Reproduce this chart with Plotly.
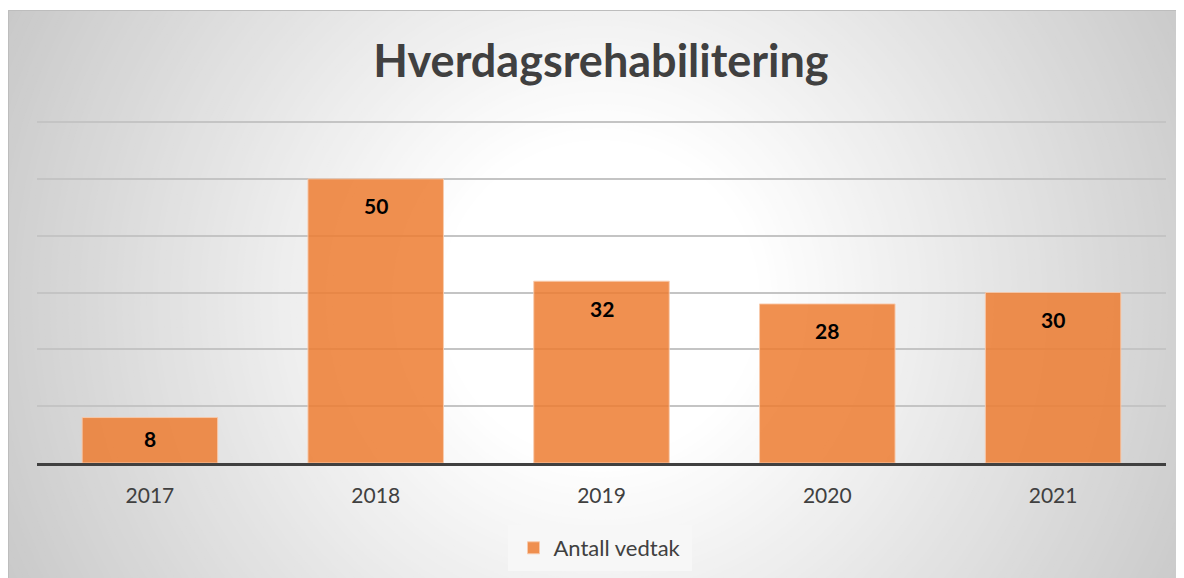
import plotly.graph_objects as go

# ---- data ----
years = ["2017", "2018", "2019", "2020", "2021"]
vedtak = [8, 50, 32, 28, 30]
series_name = "Antall vedtak"
title_text = "Hverdagsrehabilitering"

# ---- geometry: reference page pixels, page has an 8px body margin ----
OX, OY = 8, 8
W, H = 1184 - OX, 578 - OY
PLOT_L, PLOT_R, PLOT_T, PLOT_B = 37, 1166, 121, 463   # page pixels
L = PLOT_L - OX
R = W - (PLOT_R - OX)
T = PLOT_T - OY
B = H - (PLOT_B - OY)
PW, PH = W - L - R, H - T - B
YMAX = 60.2


def fx(p):  # page px -> paper x
    return (p - PLOT_L) / PW


def fy(p):  # page px -> paper y
    return (PLOT_B - p) / PH


def cy_(p):  # page px -> container y
    return 1 - (p - OY) / H


FONT = "Lato, Carlito, Calibri, sans-serif"

fig = go.Figure()
fig.add_trace(go.Bar(
    x=years, y=vedtak, name=series_name, width=0.6,
    marker=dict(color="rgba(237,125,49,0.85)",
                line=dict(color="rgba(248,203,173,0.9)", width=1)),
    showlegend=True,
))

# ---- background: radial gradient via concentric circles ----
shapes = []
cx, cy = 600, 300


def shade(r):
    v = 255 if r <= 160 else 255 - 0.108 * (r - 160)
    v = int(round(max(v, 190)))
    return f"rgb({v},{v},{v})"


shapes.append(dict(type="rect", xref="paper", yref="paper", layer="below",
                   x0=fx(0), x1=fx(1200), y0=fy(10), y1=fy(600),
                   fillcolor=shade(700), line=dict(width=0)))
r = 700
while r >= 150:
    shapes.append(dict(type="circle", xref="paper", yref="paper", layer="below",
                       x0=fx(cx - r), x1=fx(cx + r), y0=fy(cy + r), y1=fy(cy - r),
                       fillcolor=shade(r), line=dict(width=0)))
    r -= 6
# white margin above the chart frame
shapes.append(dict(type="rect", xref="paper", yref="paper", layer="below",
                   x0=fx(-20), x1=fx(1220), y0=fy(10), y1=fy(-20),
                   fillcolor="white", line=dict(width=0)))
# frame border
shapes.append(dict(type="rect", xref="paper", yref="paper", layer="below",
                   x0=fx(8.5), x1=fx(1220), y0=fy(10.5), y1=fy(620),
                   fillcolor="rgba(0,0,0,0)", line=dict(color="#BDBDBD", width=1)))
# legend box background
shapes.append(dict(type="rect", xref="paper", yref="paper", layer="below",
                   x0=fx(508), x1=fx(692), y0=fy(571), y1=fy(525),
                   fillcolor="#F7F7F7", line=dict(width=0)))

# ---- data labels ----
px_per_unit = PH / YMAX
annotations = []
for i, v in enumerate(vedtak):
    off = min(27, v * px_per_unit / 2 - 2)
    annotations.append(dict(x=i, y=v, xref="x", yref="y", text=str(v),
                            showarrow=False, yanchor="middle", yshift=-off,
                            font=dict(family=FONT, size=21, color="black",
                                      weight="bold")))

fig.update_layout(
    width=W, height=H, autosize=False,
    margin=dict(l=L, r=R, t=T, b=B, pad=0),
    paper_bgcolor="white",
    plot_bgcolor="rgba(0,0,0,0)",
    title=dict(text=f"<b>{title_text}</b>", x=fx(601), xref="paper",
               xanchor="center",
               y=cy_(61), yanchor="middle",
               font=dict(family=FONT, size=45, color="#404040")),
    shapes=shapes,
    annotations=annotations,
    xaxis=dict(type="category", range=[-0.5, len(years) - 0.5],
               automargin=False,
               showline=True, linecolor="#404040", linewidth=3,
               showgrid=False, ticks="", ticklabelstandoff=12,
               tickfont=dict(family=FONT, size=21, color="#404040")),
    yaxis=dict(range=[0, YMAX], tickmode="linear", tick0=0, dtick=10,
               automargin=False, showticklabels=False,
               showgrid=True, gridcolor="#C4C4C4", gridwidth=1.5,
               zeroline=False, showline=False, ticks=""),
    legend=dict(orientation="h", x=fx(600), xanchor="center",
                yref="container", y=cy_(527), yanchor="top",
                bgcolor="rgba(0,0,0,0)", borderwidth=0,
                font=dict(family=FONT, size=22, color="#404040")),
)

fig.write_html("out.html")
